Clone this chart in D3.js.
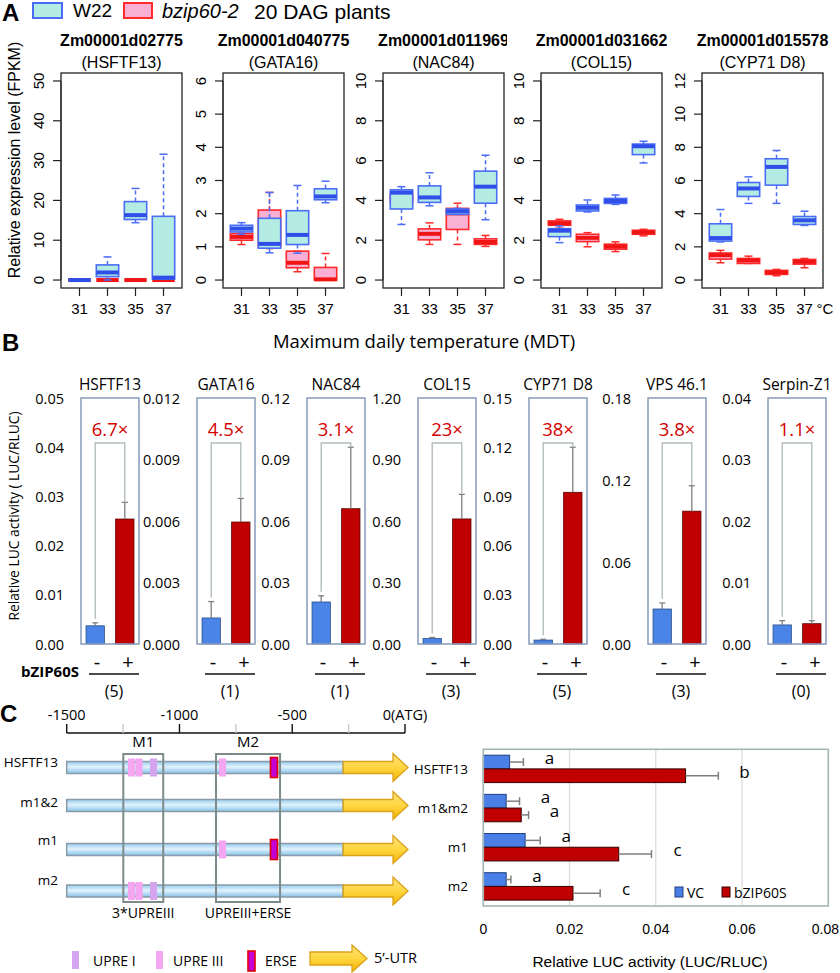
<!DOCTYPE html>
<html><head><meta charset="utf-8">
<script src="https://cdn.jsdelivr.net/npm/d3@7"></script>
<style>body{margin:0;background:#fff} svg{display:block}</style>
</head><body>
<svg id="fig" width="840" height="973"></svg>
<script>
// ================= DATA =================
// Panel A: RNA-seq boxplots  [low whisker, Q1, median, Q3, high whisker]
const tempLabels = ['31','33','35','37'];
const genesA = ['Zm00001d02775','Zm00001d040775','Zm00001d011969','Zm00001d031662','Zm00001d015578'];
const namesA = ['(HSFTF13)','(GATA16)','(NAC84)','(COL15)','(CYP71 D8)'];
const yMaxA  = [50, 6, 10, 10, 12];
const yStepA = [10, 1, 2, 2, 2];
const w22Stats = [
  [[0,0,0,0,0],[0,0.85,1.9,3.8,5.8],[14.4,15.2,16.3,19.7,23],[0.2,0.25,0.6,16,31.6]],
  [[1.38,1.45,1.55,1.65,1.73],[0.82,0.96,1.09,1.86,2.64],[0.81,1.07,1.36,2.09,2.85],[2.33,2.42,2.52,2.75,2.98]],
  [[2.79,3.57,4.39,4.53,4.69],[3.73,3.9,4.15,4.73,5.39],[3.3,3.3,3.45,3.57,3.6],[3.03,3.86,4.69,5.47,6.27]],
  [[1.88,2.18,2.48,2.58,2.72],[3.42,3.47,3.63,3.77,4.02],[3.8,3.85,3.97,4.1,4.27],[5.88,6.3,6.72,6.83,6.97]],
  [[2.3,2.35,2.53,3.39,4.25],[4.62,5.04,5.52,5.88,6.22],[4.62,5.72,6.82,7.31,7.81],[3.29,3.35,3.6,3.83,4.15]]
];
const bzipStats = [
  [[0,0,0,0,0],[0,0,0,0,0],[0,0,0,0,0],[0,0,0,0,0]],
  [[1.07,1.2,1.3,1.4,1.45],[0.95,1.0,1.1,2.11,2.64],[0.25,0.37,0.52,0.87,0.87],[0,0,0.02,0.38,0.8]],
  [[3.8,3.9,4.1,4.3,4.45],[1.79,2.02,2.32,2.57,2.87],[1.79,2.54,3.35,3.6,3.86],[1.69,1.79,1.91,2.07,2.24]],
  [[2.6,2.75,2.85,2.97,3.05],[1.67,1.93,2.12,2.3,2.38],[1.43,1.55,1.68,1.8,1.92],[2.22,2.3,2.4,2.5,2.55]],
  [[1.04,1.26,1.5,1.63,1.79],[1.0,1.0,1.18,1.3,1.44],[0.26,0.34,0.46,0.58,0.64],[0.74,0.96,1.1,1.24,1.3]]
];

// Panel B: dual-luciferase assays
const genesB   = ['HSFTF13','GATA16','NAC84','COL15','CYP71 D8','VPS 46.1','Serpin-Z1'];
const yMaxB    = [0.05, 0.012, 0.12, 1.20, 0.15, 0.18, 0.04];
const yStepB   = [0.01, 0.003, 0.03, 0.30, 0.03, 0.06, 0.01];
const yDecB    = [2, 3, 2, 2, 2, 2, 2];
const vcB      = [0.0037, 0.00127, 0.0205, 0.027, 0.0024, 0.0256, 0.0031];
const vcErrB   = [0.0006, 0.0008, 0.003, 0.005, 0.0005, 0.0044, 0.0007];
const bzB      = [0.0254, 0.00595, 0.066, 0.61, 0.0925, 0.0972, 0.0033];
const bzErrB   = [0.0034, 0.00115, 0.030, 0.12, 0.0275, 0.0186, 0.0005];
const foldB    = ['6.7×','4.5×','3.1×','23×','38×','3.8×','1.1×'];
const countB   = ['(5)','(1)','(1)','(3)','(5)','(3)','(0)'];
const signB    = ['-','+'];

// Panel C left: promoter constructs
const scaleTicksC = [-1500,-1000,-500,0];
const scaleLabelsC = ['-1500','-1000','-500','0(ATG)'];
const minorTicksC = [-1250,-750,-250];
const rowsC = ['HSFTF13','m1&2','m1','m2'];
const elemType = ['UPRE III','UPRE III','UPRE I','UPRE III','ERSE'];
const elemBp   = [-1213,-1179,-1115,-809,-581];
const rowElems = [[0,1,2,3,4],[],[3,4],[0,1,2]];
const promoterStart = -1500, utrStart = -274;
const boxM = [{name:'M1', from:-1249, to:-1072, note:'3*UPREIII'},
              {name:'M2', from:-838, to:-554, note:'UPREIII+ERSE'}];

// Panel C right: mutation assay
const constructsC = ['HSFTF13','m1&m2','m1','m2'];
const vcC      = [0.0061, 0.0053, 0.0097, 0.0053];
const vcErrC   = [0.0032, 0.0031, 0.0035, 0.0011];
const bzC      = [0.0469, 0.0088, 0.0314, 0.0208];
const bzErrC   = [0.0076, 0.0017, 0.0076, 0.0063];
const letVC    = ['a','a','a','a'];
const letBZ    = ['b','a','c','c'];
const xTicksC  = [0, 0.02, 0.04, 0.06, 0.08];

// ================= DRAWING =================
const fR = "'Liberation Sans', Arial, sans-serif";
const fC = "'Open Sans', sans-serif";
const svg = d3.select('#fig');
svg.append('rect').attr('width',840).attr('height',973).attr('fill','#fff');
const defs = svg.append('defs');
function linGrad(id, stops){
  const g = defs.append('linearGradient').attr('id',id).attr('x1',0).attr('y1',0).attr('x2',0).attr('y2',1);
  stops.forEach(([o,c])=>g.append('stop').attr('offset',o).attr('stop-color',c));
}
linGrad('gProm', [[0,'#94cbee'],[0.45,'#e2f3fd'],[1,'#86c2ea']]);
linGrad('gUtr',  [[0,'#ffe27a'],[0.5,'#ffd640'],[1,'#f2b300']]);
defs.append('clipPath').attr('id','clipT3').append('rect').attr('x',340).attr('y',0).attr('width',167).attr('height',80);

function txt(g, x, y, s, opt={}){
  return g.append('text').attr('x',x).attr('y',y).text(s)
    .attr('font-family',opt.ff||fC).attr('font-size',opt.fs||15)
    .attr('font-weight',opt.fw||'normal').attr('font-style',opt.fst||'normal')
    .attr('fill',opt.fill||'#000').attr('text-anchor',opt.anchor||'start');
}

// ---------- Panel A ----------
const gA = svg.append('g');
txt(gA, 2, 21, 'A', {ff:fR, fs:24, fw:'bold'});
gA.append('rect').attr('x',33).attr('y',3).attr('width',29).attr('height',15).attr('fill','#b4ece4').attr('stroke','#4a6cf7').attr('stroke-width',2);
txt(gA, 73, 17, 'W22', {ff:fR, fs:19});
gA.append('rect').attr('x',124).attr('y',3).attr('width',28).attr('height',15).attr('fill','#f9b0d4').attr('stroke','#ff2a2a').attr('stroke-width',2);
txt(gA, 162, 18, 'bzip60-2', {ff:fR, fs:20, fst:'italic'});
txt(gA, 254, 19, '20 DAG plants', {ff:fR, fs:21});

const aLeft = [61,223,383,541,702], aW = 121, aTop = 73, aBot = 288;
const blueS = {stroke:'#4a6cf7', fill:'#b4ece4', med:'#2f4fe8'};
const redS  = {stroke:'#ff2a2a', fill:'#f9b0d4', med:'#f01515'};
function drawBox(g, cx, st, y, s){
  const [lo,q1,med,q3,hi] = st, hw = 11.2, cap = 4;
  g.append('line').attr('x1',cx).attr('x2',cx).attr('y1',y(q3)).attr('y2',y(hi))
    .attr('stroke',s.stroke).attr('stroke-width',1.5).attr('stroke-dasharray','4,3');
  g.append('line').attr('x1',cx).attr('x2',cx).attr('y1',y(q1)).attr('y2',y(lo))
    .attr('stroke',s.stroke).attr('stroke-width',1.5).attr('stroke-dasharray','4,3');
  [lo,hi].forEach(v=>g.append('line').attr('x1',cx-cap).attr('x2',cx+cap).attr('y1',y(v)).attr('y2',y(v))
    .attr('stroke',s.stroke).attr('stroke-width',1.5));
  g.append('rect').attr('x',cx-hw).attr('y',y(q3)).attr('width',2*hw).attr('height',Math.max(0,y(q1)-y(q3)))
    .attr('fill',s.fill).attr('stroke',s.stroke).attr('stroke-width',1.6);
  g.append('line').attr('x1',cx-hw).attr('x2',cx+hw).attr('y1',y(med)).attr('y2',y(med))
    .attr('stroke',s.med).attr('stroke-width',4);
}
genesA.forEach((gene,i)=>{
  const g = gA.append('g');
  const L = aLeft[i], max = yMaxA[i];
  const y = d3.scaleLinear().domain([-0.04*max, 1.04*max]).range([aBot, aTop]);
  const x = d3.scaleLinear().domain([0.34, 4.66]).range([L, L+aW]);
  tempLabels.forEach((t,j)=>drawBox(g, x(j+1), bzipStats[i][j], y, redS));
  tempLabels.forEach((t,j)=>drawBox(g, x(j+1), w22Stats[i][j], y, blueS));
  g.append('rect').attr('x',L).attr('y',aTop).attr('width',aW).attr('height',aBot-aTop)
    .attr('fill','none').attr('stroke','#222').attr('stroke-width',1.3);
  const n = Math.round(max/yStepA[i]);
  const ticks = d3.range(0,n+1).map(k=>k*yStepA[i]);
  g.append('line').attr('x1',L).attr('x2',L).attr('y1',y(0)).attr('y2',y(max)).attr('stroke','#222');
  ticks.forEach(v=>{
    g.append('line').attr('x1',L-8).attr('x2',L).attr('y1',y(v)).attr('y2',y(v)).attr('stroke','#222').attr('stroke-width',1.2);
    g.append('text').attr('transform',`translate(${L-17},${y(v)}) rotate(-90)`).text(v)
      .attr('font-family',fR).attr('font-size',15).attr('text-anchor','middle');
  });
  tempLabels.forEach((t,j)=>{
    g.append('line').attr('x1',x(j+1)).attr('x2',x(j+1)).attr('y1',aBot).attr('y2',aBot+8).attr('stroke','#222').attr('stroke-width',1.2);
    txt(g, x(j+1), 314, t, {ff:fR, fs:15, anchor:'middle'});
  });
  if (i===4) txt(g, x(4)+12, 314, '°C', {ff:fR, fs:15});
  const cx = L + aW/2;
  const tg = g.append('g');
  if (i===2) tg.attr('clip-path','url(#clipT3)');
  txt(tg, cx, 46, gene, {ff:fR, fs:16, fw:'bold', anchor:'middle'});
  txt(tg, cx, 68, namesA[i], {ff:fR, fs:16, anchor:'middle'});
});
gA.append('text').attr('transform','translate(20,160) rotate(-90)').text('Relative expression level (FPKM)')
  .attr('font-family',fR).attr('font-size',16).attr('text-anchor','middle');
txt(gA, 424, 348, 'Maximum daily temperature (MDT)', {fs:18.5, anchor:'middle'});

// ---------- Panel B ----------
const gB = svg.append('g');
txt(gB, 2, 351, 'B', {ff:fR, fs:24, fw:'bold'});
gB.append('text').attr('transform','translate(19,516) rotate(-90)').text('Relative LUC activity ( LUC/RLUC)')
  .attr('font-family',fC).attr('font-size',13.8).attr('text-anchor','middle');
txt(gB, 21, 677, 'bZIP60S', {fs:15, fw:'bold'});
const bLeft = [81,197,307,418,529,648,768], bW = 58, bTop = 398, bBot = 644;
genesB.forEach((name,i)=>{
  const g = gB.append('g');
  const L = bLeft[i];
  const y = d3.scaleLinear().domain([0, yMaxB[i]]).range([bBot, bTop]);
  const x = d3.scaleBand().domain(signB).range([L, L+bW]).paddingInner(0.38).paddingOuter(0.17);
  const n = Math.round(yMaxB[i]/yStepB[i]);
  const fmt = d3.format(`.${yDecB[i]}f`);
  d3.range(0,n+1).forEach(k=>{
    const v = k*yStepB[i];
    txt(g, L-17, y(v)+5.5, fmt(v), {fs:14.5, anchor:'end'});
  });
  const vals = [vcB[i], bzB[i]], errs = [vcErrB[i], bzErrB[i]], cols = ['#4a84e6','#c00000'], strk=['#2c4f8a','#5a0000'];
  const bw = x.bandwidth();
  signB.forEach((s,k)=>{
    g.append('rect').attr('x',x(s)).attr('y',y(vals[k])).attr('width',bw).attr('height',bBot-y(vals[k]))
      .attr('fill',cols[k]).attr('stroke',strk[k]).attr('stroke-width',0.8);
    const cx = x(s)+bw/2, ye = y(vals[k]+errs[k]);
    g.append('line').attr('x1',cx).attr('x2',cx).attr('y1',y(vals[k])).attr('y2',ye).attr('stroke','#7f7f7f').attr('stroke-width',1.3);
    g.append('line').attr('x1',cx-3).attr('x2',cx+3).attr('y1',ye).attr('y2',ye).attr('stroke','#7f7f7f').attr('stroke-width',1.3);
  });
  g.append('rect').attr('x',L).attr('y',bTop).attr('width',bW).attr('height',bBot-bTop)
    .attr('fill','none').attr('stroke','#8ea0c0').attr('stroke-width',1.6);
  const xb = x('-')+bw/2, xr = x('+')+bw/2;
  const yb = y(vcB[i]+vcErrB[i])-4, yr = y(bzB[i]+bzErrB[i])-1;
  g.append('path').attr('d',`M${xb},${yb}V443H${xr}V${yr}`).attr('fill','none').attr('stroke','#b2bcbc').attr('stroke-width',1.4);
  txt(g, L+bW/2, 436, foldB[i], {fs:18.5, fill:'#d40000', anchor:'middle'});
  txt(g, L+bW/2, 390, name, {fs:15.5, anchor:'middle'});
  txt(g, L+16, 669, signB[0], {fs:20, anchor:'middle'});
  txt(g, L+47, 669, signB[1], {fs:20, anchor:'middle'});
  g.append('line').attr('x1',L+8).attr('x2',L+58).attr('y1',674).attr('y2',674).attr('stroke','#111').attr('stroke-width',1.6);
  txt(g, L+33, 697, countB[i], {fs:16, anchor:'middle'});
});

// ---------- Panel C left ----------
const gC = svg.append('g');
txt(gC, 0, 722, 'C', {ff:fR, fs:24, fw:'bold'});
const xp = d3.scaleLinear().domain([-1500,0]).range([66.7,405]);
gC.append('line').attr('x1',xp(-1500)).attr('x2',xp(0)).attr('y1',733).attr('y2',733).attr('stroke','#111').attr('stroke-width',1.4);
scaleTicksC.forEach((v,k)=>{
  gC.append('line').attr('x1',xp(v)).attr('x2',xp(v)).attr('y1',724).attr('y2',733).attr('stroke','#111').attr('stroke-width',1.4);
  txt(gC, xp(v), 720, scaleLabelsC[k], {fs:14.5, anchor:'middle'});
});
minorTicksC.forEach(v=>gC.append('line').attr('x1',xp(v)).attr('x2',xp(v)).attr('y1',724).attr('y2',733).attr('stroke','#c8c8c8').attr('stroke-width',1.4));
const rowY = [767.5, 805.5, 849.5, 891];
const rowLabY = [767, 807, 845, 885];
const elemStyle = {'UPRE I':{fill:'#d4a4ee',stroke:'none',w:7,h:18}, 'UPRE III':{fill:'#f4a6f0',stroke:'none',w:7,h:18}, 'ERSE':{fill:'#c400d6',stroke:'#e00000',w:7,h:20}};
function utrArrow(g, x0, x1, cy, hs, hh){
  const xh = x1-15;
  g.append('path').attr('d',`M${x0},${cy-hs}H${xh}V${cy-hh}L${x1},${cy}L${xh},${cy+hh}V${cy+hs}H${x0}Z`)
    .attr('fill','url(#gUtr)').attr('stroke','#d9a21a').attr('stroke-width',1.3);
}
rowsC.forEach((r,k)=>{
  const cy = rowY[k];
  gC.append('rect').attr('x',xp(promoterStart)).attr('y',cy-6).attr('width',xp(utrStart)-xp(promoterStart)).attr('height',12)
    .attr('fill','url(#gProm)').attr('stroke','#8a9aa6').attr('stroke-width',1.5);
  utrArrow(gC, xp(utrStart), xp(0)+3, cy, 6, 14);
  rowElems[k].forEach(e=>{
    const s = elemStyle[elemType[e]];
    gC.append('rect').attr('x',xp(elemBp[e])-s.w/2).attr('y',cy-s.h/2).attr('width',s.w).attr('height',s.h)
      .attr('fill',s.fill).attr('stroke',s.stroke).attr('stroke-width',1.6);
  });
  txt(gC, 58, rowLabY[k], r, {fs:13.5, anchor:'end'});
});
boxM.forEach(b=>{
  gC.append('rect').attr('x',xp(b.from)).attr('y',754).attr('width',xp(b.to)-xp(b.from)).attr('height',148)
    .attr('fill','none').attr('stroke','#7d8b8b').attr('stroke-width',2);
  const cx = (xp(b.from)+xp(b.to))/2;
  txt(gC, cx, 747, b.name, {fs:15, anchor:'middle'});
  txt(gC, cx, 918, b.note, {fs:14, anchor:'middle'});
});
const legC = [{t:'UPRE I', x:72, tx:93},{t:'UPRE III', x:156, tx:173},{t:'ERSE', x:248, tx:265}];
legC.forEach(l=>{
  const s = elemStyle[l.t];
  gC.append('rect').attr('x',l.x).attr('y',951).attr('width',s.w).attr('height',s.h)
    .attr('fill',s.fill).attr('stroke',s.stroke).attr('stroke-width',1.6);
  txt(gC, l.tx, 966, l.t, {fs:14});
});
utrArrow(gC, 310, 367, 958.5, 6.5, 13.5);
txt(gC, 374, 963, '5’-UTR', {fs:14.5});

// ---------- Panel C right ----------
const gD = svg.append('g');
const pL = 483.3, pR = 828.3, pT = 749.3, pB = 906;
const xs = d3.scaleLinear().domain([0,0.08]).range([pL,pR]);
const ys = d3.scaleBand().domain(constructsC).range([pT,pB]).paddingInner(0.3).paddingOuter(0.15);
xTicksC.slice(1,-1).forEach(v=>gD.append('line').attr('x1',xs(v)).attr('x2',xs(v)).attr('y1',pT).attr('y2',pB).attr('stroke','#d9d9d9').attr('stroke-width',1.2));
const hb = ys.bandwidth()/2;
constructsC.forEach((c,k)=>{
  const y0 = ys(c);
  const series = [{v:vcC[k], e:vcErrC[k], y:y0, fill:'#4a7fe8', st:'#1f3f80', l:letVC[k]},
                  {v:bzC[k], e:bzErrC[k], y:y0+hb, fill:'#c00000', st:'#3a0000', l:letBZ[k]}];
  series.forEach(s=>{
    gD.append('rect').attr('x',pL).attr('y',s.y).attr('width',xs(s.v)-pL).attr('height',hb)
      .attr('fill',s.fill).attr('stroke',s.st).attr('stroke-width',1);
    const cy = s.y+hb/2, xe = xs(s.v+s.e);
    gD.append('line').attr('x1',xs(s.v)).attr('x2',xe).attr('y1',cy).attr('y2',cy).attr('stroke','#7f7f7f').attr('stroke-width',1.5);
    gD.append('line').attr('x1',xe).attr('x2',xe).attr('y1',cy-4).attr('y2',cy+4).attr('stroke','#7f7f7f').attr('stroke-width',1.5);
    txt(gD, xe+26, cy+2, s.l, {fs:17, anchor:'middle'});
  });
  txt(gD, 468, y0+hb+5, c, {fs:13.5, anchor:'end'});
});
gD.append('rect').attr('x',pL).attr('y',pT).attr('width',pR-pL).attr('height',pB-pT)
  .attr('fill','none').attr('stroke','#a3b6b6').attr('stroke-width',1.6);
xTicksC.forEach((v,k)=>{
  const last = k===xTicksC.length-1;
  txt(gD, last ? 839 : xs(v), 934, v===0?'0':String(v), {ff:fR, fs:14, anchor: last?'end':'middle'});
});
txt(gD, 650, 967, 'Relative LUC activity (LUC/RLUC)', {ff:fR, fs:15.5, anchor:'middle'});
gD.append('rect').attr('x',675).attr('y',887).attr('width',8).attr('height',10).attr('fill','#4a7fe8').attr('stroke','#1f3f80');
txt(gD, 687, 898, 'VC', {fs:14});
gD.append('rect').attr('x',722).attr('y',887).attr('width',8).attr('height',10).attr('fill','#c00000').attr('stroke','#3a0000');
txt(gD, 734, 898, 'bZIP60S', {fs:14});
</script>
</body></html>
